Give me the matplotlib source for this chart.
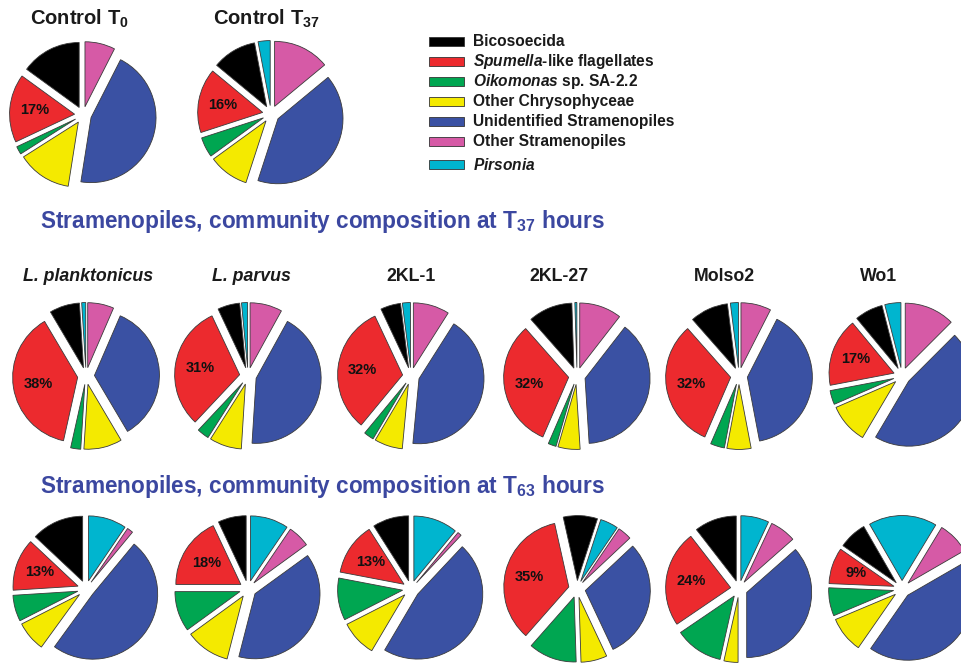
import matplotlib
matplotlib.use("Agg")
import matplotlib.pyplot as plt
import numpy as np
from matplotlib.patches import Rectangle

plt.rcParams['font.family'] = ['Liberation Sans', 'DejaVu Sans']
plt.rcParams['mathtext.fontset'] = 'custom'
plt.rcParams['mathtext.rm'] = 'Liberation Sans:bold'
plt.rcParams['mathtext.bf'] = 'Liberation Sans:bold'
plt.rcParams['mathtext.it'] = 'Liberation Sans:italic:bold'

# ---------------- data ----------------
categories = ["Bicosoecida", "Spumella-like flagellates", "Oikomonas sp. SA-2.2",
              "Other Chrysophyceae", "Unidentified Stramenopiles",
              "Other Stramenopiles", "Pirsonia"]
legend_labels = ["Bicosoecida", r"$\mathit{Spumella}$-like flagellates",
                 r"$\mathit{Oikomonas}$ sp. SA-2.2", "Other Chrysophyceae",
                 "Unidentified Stramenopiles", "Other Stramenopiles",
                 r"$\mathit{Pirsonia}$"]
colors = ["#000000", "#ec2a2e", "#00a651", "#f4ea00", "#3a51a3", "#d65aa6", "#00b5cf"]

# values: Bicosoecida, Spumella, Oikomonas, Other Chrys., Unidentified, Other Stram., Pirsonia
control_T0  = [15.0, 17.0, 2.0, 13.5, 45.0, 7.5, 0.0]
control_T37 = [11.0, 16.0, 5.0, 10.0, 41.0, 14.0, 3.0]
control_labels = ["17%", "16%"]

t37_names = ["L. planktonicus", "L. parvus", "2KL-1", "2KL-27", "Molso2", "Wo1"]
t37_values = [
    [7.5, 38.0, 2.5, 9.5, 35.0, 6.5, 1.0],
    [5.5, 31.0, 3.0, 8.0, 43.0, 8.0, 1.5],
    [5.0, 32.0, 2.5, 7.0, 42.5, 9.0, 2.0],
    [11.0, 32.0, 2.0, 5.5, 38.5, 10.5, 0.5],
    [9.5, 32.0, 3.5, 6.0, 39.5, 7.5, 2.0],
    [7.0, 17.0, 3.5, 10.0, 46.0, 12.5, 4.0],
]
t37_labels = ["38%", "31%", "32%", "32%", "32%", "17%"]

t63_values = [
    [13.0, 13.0, 6.5, 7.5, 49.0, 1.5, 9.5],
    [7.0, 18.0, 10.0, 11.0, 39.0, 5.5, 9.5],
    [9.0, 13.0, 10.5, 9.0, 46.5, 1.0, 11.0],
    [8.5, 35.0, 12.0, 6.5, 30.0, 3.5, 4.5],
    [10.5, 24.0, 12.0, 3.5, 36.5, 6.5, 7.0],
    [7.0, 9.0, 7.0, 9.0, 43.0, 8.0, 17.0],
]
t63_labels = ["13%", "18%", "13%", "35%", "24%", "9%"]

# ---------------- layout ----------------
W, H = 962, 663
fig = plt.figure(figsize=(W / 100, H / 100), dpi=100)
fig.patch.set_facecolor("white")

R_PX = 65.0
LIM = 1.35
EXPLODE = 0.13
title_color = "#3b47a0"


def fx(x):
    return x / W


def fy(y):
    return 1 - y / H


def draw_pie(cx, cy, values, label, startangle):
    S = 2 * LIM * R_PX
    ax = fig.add_axes([(cx - S / 2) / W, (H - cy - S / 2) / H, S / W, S / H])
    vals = np.array(values, dtype=float)
    vals_plot = np.where(vals > 0, vals, 1e-9)
    wedges, _ = ax.pie(vals_plot, colors=colors, explode=[EXPLODE] * len(vals),
                       startangle=startangle, counterclock=True, radius=1.0,
                       wedgeprops=dict(edgecolor="#3a3a3a", linewidth=0.6))
    ax.set_xlim(-LIM, LIM)
    ax.set_ylim(-LIM, LIM)
    ax.set_aspect("equal")
    ax.axis("off")
    for w, v in zip(wedges, vals):
        if v <= 0:
            w.set_visible(False)
    red = wedges[1]
    mid = np.deg2rad((red.theta1 + red.theta2) / 2)
    cxw, cyw = red.center
    rr = 0.62
    ax.text(cxw + rr * np.cos(mid), cyw + rr * np.sin(mid), label,
            ha="center", va="center", fontsize=10.5, fontweight="bold", color="#111111")
    return ax


def start_cyan_left(values):
    return 90 + 360.0 * values[6] / sum(values)


# Row 1: controls
draw_pie(83, 115, control_T0, control_labels[0], 90)
draw_pie(271, 114, control_T37, control_labels[1], start_cyan_left(control_T37))
fig.text(fx(30), fy(19), r"Control T$_{\mathbf{0}}$", fontsize=14.5, fontweight="bold",
         ha="left", va="center", color="#1a1a1a")
fig.text(fx(213), fy(19), r"Control T$_{\mathbf{37}}$", fontsize=14.5, fontweight="bold",
         ha="left", va="center", color="#1a1a1a")

# Legend
leg_y0 = 41.5
for i, (lab, col) in enumerate(zip(legend_labels, colors)):
    y = leg_y0 + 20.0 * i + (3 if i == 6 else 0)
    fig.patches.append(Rectangle((fx(429), fy(y + 4.5)), 35 / W, 9 / H,
                                 transform=fig.transFigure, facecolor=col,
                                 edgecolor="#333333", linewidth=0.6))
    fig.text(fx(473), fy(y), lab, fontsize=11.2, fontweight="bold",
             ha="left", va="center", color="#1a1a1a")

# Row 2: T37
col_x = [86, 248, 411, 577, 739, 902]
fig.text(fx(40), fy(222), r"Stramenopiles, community composition at T$_{\mathbf{37}}$ hours",
         fontsize=16.3, fontweight="bold", color=title_color, ha="left", va="center")
name_x = [88, 251, 411, 559, 724, 879]
for i, (name, vals, lab) in enumerate(zip(t37_names, t37_values, t37_labels)):
    style = "italic" if name.startswith("L.") else "normal"
    fig.text(fx(name_x[i]), fy(276), name, fontsize=12.8, fontweight="bold",
             fontstyle=style, ha="center", va="center", color="#1a1a1a")
    draw_pie(col_x[i], 376, vals, lab, start_cyan_left(vals))

# Row 3: T63
fig.text(fx(40), fy(487), r"Stramenopiles, community composition at T$_{\mathbf{63}}$ hours",
         fontsize=16.3, fontweight="bold", color=title_color, ha="left", va="center")
t63_start = [90, 90, 90, 72, 90, 120]
for i, (vals, lab) in enumerate(zip(t63_values, t63_labels)):
    draw_pie(col_x[i], 589, vals, lab, t63_start[i])

fig.savefig("out.png", dpi=100, facecolor="white")
